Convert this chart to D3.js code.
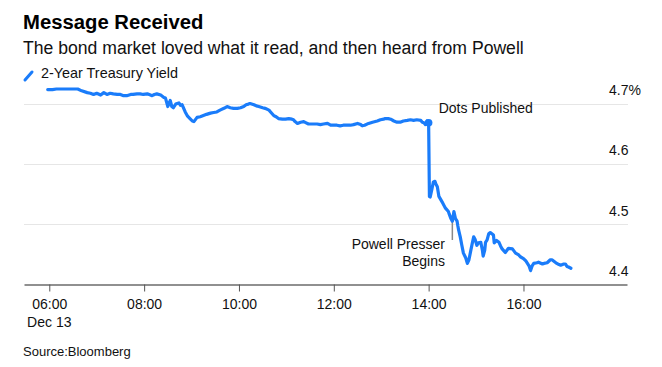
<!DOCTYPE html>
<html>
<head>
<meta charset="utf-8">
<script src="https://cdn.jsdelivr.net/npm/d3@7"></script>
<style>
  html, body { margin: 0; padding: 0; background: #fff; }
  svg { display: block; font-family: "Liberation Sans", Arial, Helvetica, sans-serif; }
</style>
</head>
<body>
<svg id="chart" width="662" height="367"></svg>
<script>
// ---- data ----
const title = "Message Received";
const subtitle = "The bond market loved what it read, and then heard from Powell";
const seriesName = "2-Year Treasury Yield";
const source = "Source:Bloomberg";
const dateLabel = "Dec 13";

const times = [
  "05:58","06:04","06:09","06:16","06:24","06:29","06:36","06:41","06:48","06:52",
  "06:56","07:00","07:05","07:09","07:13","07:17","07:21","07:26","07:30","07:34",
  "07:38","07:43","07:46","07:51","07:55","07:59","08:04","08:08","08:10","08:13",
  "08:16","08:21","08:25","08:27","08:30","08:33","08:35","08:37","08:40","08:44",
  "08:46","08:48","08:52","08:55","08:58","09:01","09:03","09:07","09:11","09:15",
  "09:19","09:24","09:28","09:32","09:36","09:41","09:45","09:49","09:53","09:58",
  "10:02","10:06","10:09","10:12","10:14","10:19","10:22","10:25","10:30","10:33",
  "10:38","10:40","10:44","10:47","10:50","10:55","10:59","11:03","11:07","11:09",
  "11:11","11:14","11:18","11:22","11:25","11:28","11:33","11:39","11:43","11:47",
  "11:52","11:56","12:00","12:04","12:08","12:12","12:17","12:21","12:25","12:30",
  "12:34","12:36","12:39","12:44","12:49","12:55","12:59","13:03","13:05","13:09",
  "13:12","13:16","13:20","13:24","13:28","13:33","13:37","13:41","13:45","13:50",
  "13:52","13:54","13:56","13:58","14:00","14:01","14:02","14:04","14:06","14:08",
  "14:09","14:11","14:13","14:17","14:21","14:25","14:26","14:28","14:30","14:32",
  "14:34","14:36","14:37","14:38","14:40","14:42","14:44","14:47","14:49","14:51",
  "14:53","14:55","14:57","14:59","15:01","15:03","15:06","15:08","15:09","15:11",
  "15:12","15:14","15:16","15:18","15:22","15:23","15:26","15:29","15:31","15:33",
  "15:37","15:41","15:46","15:50","15:54","15:56","16:00","16:03","16:07","16:09",
  "16:11","16:13","16:17","16:19","16:24","16:26","16:30","16:34","16:36","16:41",
  "16:45","16:47","16:51","16:53","16:55","16:57","17:00"
];
const yields = [
  4.723,4.723,4.724,4.724,4.724,4.724,4.724,4.721,4.718,4.717,
  4.715,4.717,4.714,4.718,4.715,4.717,4.716,4.715,4.715,4.713,
  4.713,4.715,4.715,4.716,4.716,4.715,4.716,4.714,4.713,4.715,
  4.716,4.714,4.710,4.709,4.695,4.705,4.695,4.693,4.699,4.701,
  4.697,4.698,4.686,4.679,4.675,4.671,4.670,4.677,4.678,4.680,
  4.682,4.684,4.685,4.686,4.689,4.692,4.695,4.693,4.692,4.692,
  4.693,4.695,4.698,4.699,4.700,4.698,4.696,4.695,4.693,4.692,
  4.689,4.686,4.680,4.678,4.675,4.674,4.674,4.675,4.674,4.673,
  4.670,4.667,4.669,4.670,4.668,4.666,4.666,4.666,4.665,4.666,
  4.667,4.664,4.664,4.664,4.663,4.664,4.664,4.664,4.665,4.667,
  4.665,4.663,4.664,4.667,4.669,4.671,4.673,4.674,4.675,4.675,
  4.674,4.671,4.669,4.669,4.671,4.672,4.673,4.672,4.673,4.672,
  4.669,4.668,4.665,4.671,4.668,4.546,4.545,4.557,4.570,4.571,
  4.567,4.562,4.546,4.537,4.527,4.521,4.517,4.510,4.505,4.521,
  4.509,4.505,4.497,4.490,4.479,4.465,4.452,4.444,4.435,4.441,
  4.454,4.467,4.479,4.474,4.465,4.469,4.470,4.457,4.447,4.457,
  4.470,4.474,4.484,4.486,4.482,4.469,4.473,4.470,4.464,4.459,
  4.453,4.460,4.459,4.452,4.449,4.446,4.443,4.439,4.431,4.423,
  4.431,4.435,4.436,4.437,4.434,4.435,4.436,4.441,4.441,4.436,
  4.433,4.432,4.434,4.434,4.430,4.429,4.427
];

const xDomain = ["05:28", "18:11"];
const xTicks = ["06:00", "08:00", "10:00", "12:00", "14:00", "16:00"];
const yTicks = [4.4, 4.5, 4.6, 4.7];
const yTopLabelSuffix = "%";

const dotsTime = "14:00", dotsValue = 4.668, dotsLabel = "Dots Published";
const presserTime = "14:30", presserLabel = ["Powell Presser", "Begins"];

// ---- drawing ----
const parse = d3.timeParse("%Y-%m-%d %H:%M");
const t = s => parse("2023-12-13 " + s);
const data = times.map((s, i) => ({ date: t(s), value: yields[i] }));

const svg = d3.select("#chart");
const blue = "#1a7cfa";

const x = d3.scaleTime().domain(xDomain.map(t)).range([24, 627]);
const y = d3.scaleLinear().domain([4.4, 4.7]).range([284.5, 103.5]);

// header
svg.append("text").attr("x", 23).attr("y", 29)
  .attr("font-size", 20.3).attr("font-weight", "bold").attr("fill", "#000").text(title);
svg.append("text").attr("x", 23).attr("y", 54)
  .attr("font-size", 17.6).attr("fill", "#111").text(subtitle);
svg.append("line").attr("x1", 25).attr("y1", 80).attr("x2", 32).attr("y2", 72)
  .attr("stroke", blue).attr("stroke-width", 3).attr("stroke-linecap", "round");
svg.append("text").attr("x", 41).attr("y", 78)
  .attr("font-size", 14.4).attr("fill", "#111").text(seriesName);

// gridlines + y labels
const grid = svg.append("g");
yTicks.forEach((v, i) => {
  if (v !== 4.4) {
    grid.append("line").attr("x1", 24).attr("x2", 628)
      .attr("y1", Math.round(y(v)) + 0.5).attr("y2", Math.round(y(v)) + 0.5)
      .attr("stroke", "#e6e6e6").attr("stroke-width", 1);
  }
  svg.append("text").attr("x", 609).attr("y", y(v) - 8.5)
    .attr("font-size", 14).attr("fill", "#111")
    .text(d3.format(".1f")(v) + (i === yTicks.length - 1 ? yTopLabelSuffix : ""));
});

// x axis
const xAxis = d3.axisBottom(x)
  .tickValues(xTicks.map(t))
  .tickFormat(d3.timeFormat("%H:%M"))
  .tickSizeInner(7).tickSizeOuter(0).tickPadding(8);
const gx = svg.append("g").attr("transform", "translate(0,284.5)").call(xAxis);
gx.select(".domain").attr("stroke", "#222").attr("stroke-width", 1.2);
gx.selectAll(".tick line").attr("stroke", "#555");
gx.selectAll(".tick text").attr("font-size", 14).attr("fill", "#111")
  .attr("font-family", "Liberation Sans, Arial, sans-serif");
svg.append("text").attr("x", x(t(xTicks[0]))).attr("y", 327)
  .attr("text-anchor", "middle").attr("font-size", 14).attr("fill", "#111").text(dateLabel);

// presser annotation
svg.append("line").attr("x1", x(t(presserTime))).attr("x2", x(t(presserTime)))
  .attr("y1", 222).attr("y2", 240).attr("stroke", "#888").attr("stroke-width", 1.5);
svg.append("text").attr("x", 445).attr("y", 249).attr("text-anchor", "end")
  .attr("font-size", 14).attr("fill", "#111").text(presserLabel[0]);
svg.append("text").attr("x", 445).attr("y", 266).attr("text-anchor", "end")
  .attr("font-size", 14).attr("fill", "#111").text(presserLabel[1]);

// line
const line = d3.line().x(d => x(d.date)).y(d => y(d.value));
svg.append("path").datum(data).attr("d", line)
  .attr("fill", "none").attr("stroke", blue).attr("stroke-width", 3.2)
  .attr("stroke-linejoin", "round").attr("stroke-linecap", "round");

// dots annotation
svg.append("circle").attr("cx", x(t(dotsTime))).attr("cy", y(dotsValue)).attr("r", 3.8)
  .attr("fill", blue);
svg.append("text").attr("x", x(t(dotsTime)) + 10).attr("y", 113)
  .attr("font-size", 14).attr("fill", "#111").text(dotsLabel);

// source
svg.append("text").attr("x", 23).attr("y", 356)
  .attr("font-size", 13).attr("fill", "#111").text(source);
</script>
</body>
</html>
